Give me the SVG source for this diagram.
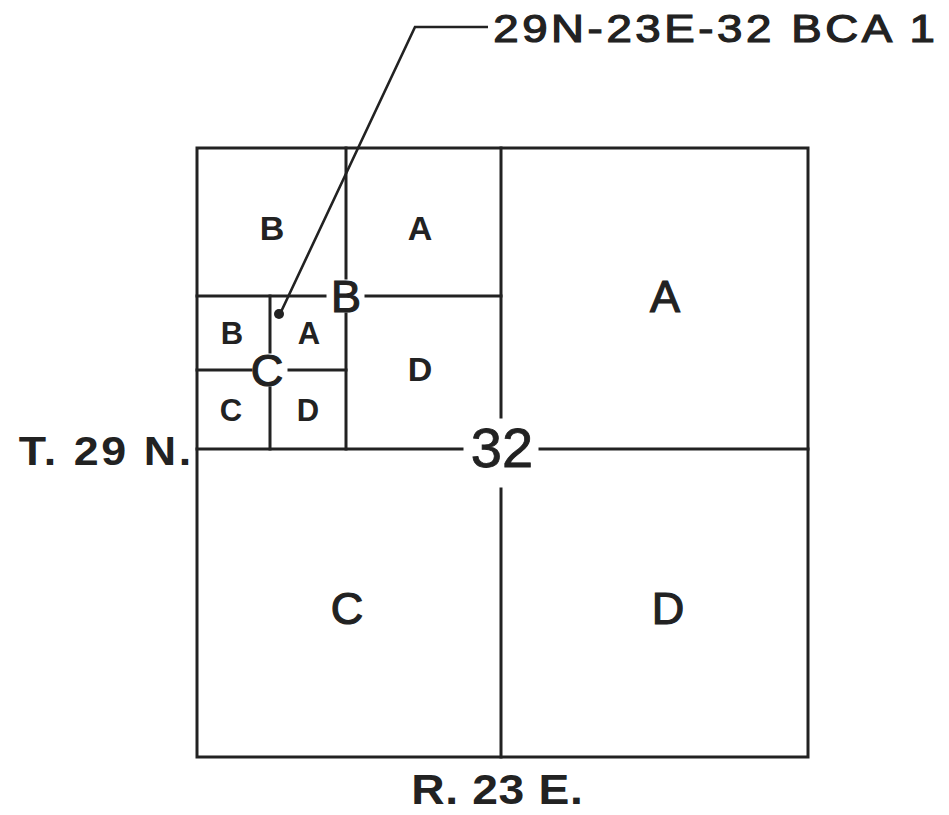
<svg xmlns="http://www.w3.org/2000/svg" width="949" height="815" viewBox="0 0 949 815">
<style>
.ln{stroke:#222;stroke-width:3;fill:none;stroke-linecap:square}
.ld{stroke:#222;stroke-width:2.6;fill:none}
text{font-family:"Liberation Sans",Arial,sans-serif;fill:#222;text-anchor:middle}
.b{font-weight:bold}
.m{stroke:#222;stroke-width:1.2}
.q{font-size:34px}
.s{font-size:31px}
.big{font-size:45px}
</style>
<rect width="949" height="815" fill="#fff"/>
<g id="section">
<rect class="ln" x="197" y="148" width="611" height="609"/>
<path class="ln" d="M501 148V417M501 489V757M197 449H462M540 449H808"/>
</g>
<g id="quarter-B">
<path class="ln" d="M346 148V278M346 314V449M197 296H325M366 296H501"/>
<text class="q b" x="272" y="240">B</text>
<text class="q b" x="420" y="240">A</text>
<text class="q b" x="420" y="381">D</text>
<text class="big m" x="346" y="312">B</text>
</g>
<g id="quarter-BC">
<path class="ln" d="M270 296V352M270 388V449M197 370H251M289 370H346"/>
<text class="s b" x="232" y="344">B</text>
<text class="s b" x="309" y="344">A</text>
<text class="s b" x="231" y="421">C</text>
<text class="s b" x="308" y="421">D</text>
<text class="big m" x="267" y="386">C</text>
</g>
<g id="quarters">
<text class="big m" x="665" y="312">A</text>
<text class="big m" x="347" y="624">C</text>
<text class="big m" x="668" y="624">D</text>
<text x="502" y="467" font-size="56" stroke="#222" stroke-width="0.8">32</text>
</g>
<g id="labels">
<text class="b" transform="translate(105 465) scale(1.12 1)" font-size="40" textLength="154" lengthAdjust="spacing">T. 29 N.</text>
<text class="b" transform="translate(497 804) scale(1.1 1)" font-size="42" textLength="156" lengthAdjust="spacing">R. 23 E.</text>
<text class="m" transform="translate(714 42) scale(1.2 1)" font-size="38" stroke-width="0.9" textLength="368" lengthAdjust="spacing">29N-23E-32 BCA 1</text>
</g>
<g id="connectors">
<path class="ld" d="M280 314L415 27H488"/>
<circle cx="279" cy="314" r="5" fill="#222"/>
</g>
</svg>
